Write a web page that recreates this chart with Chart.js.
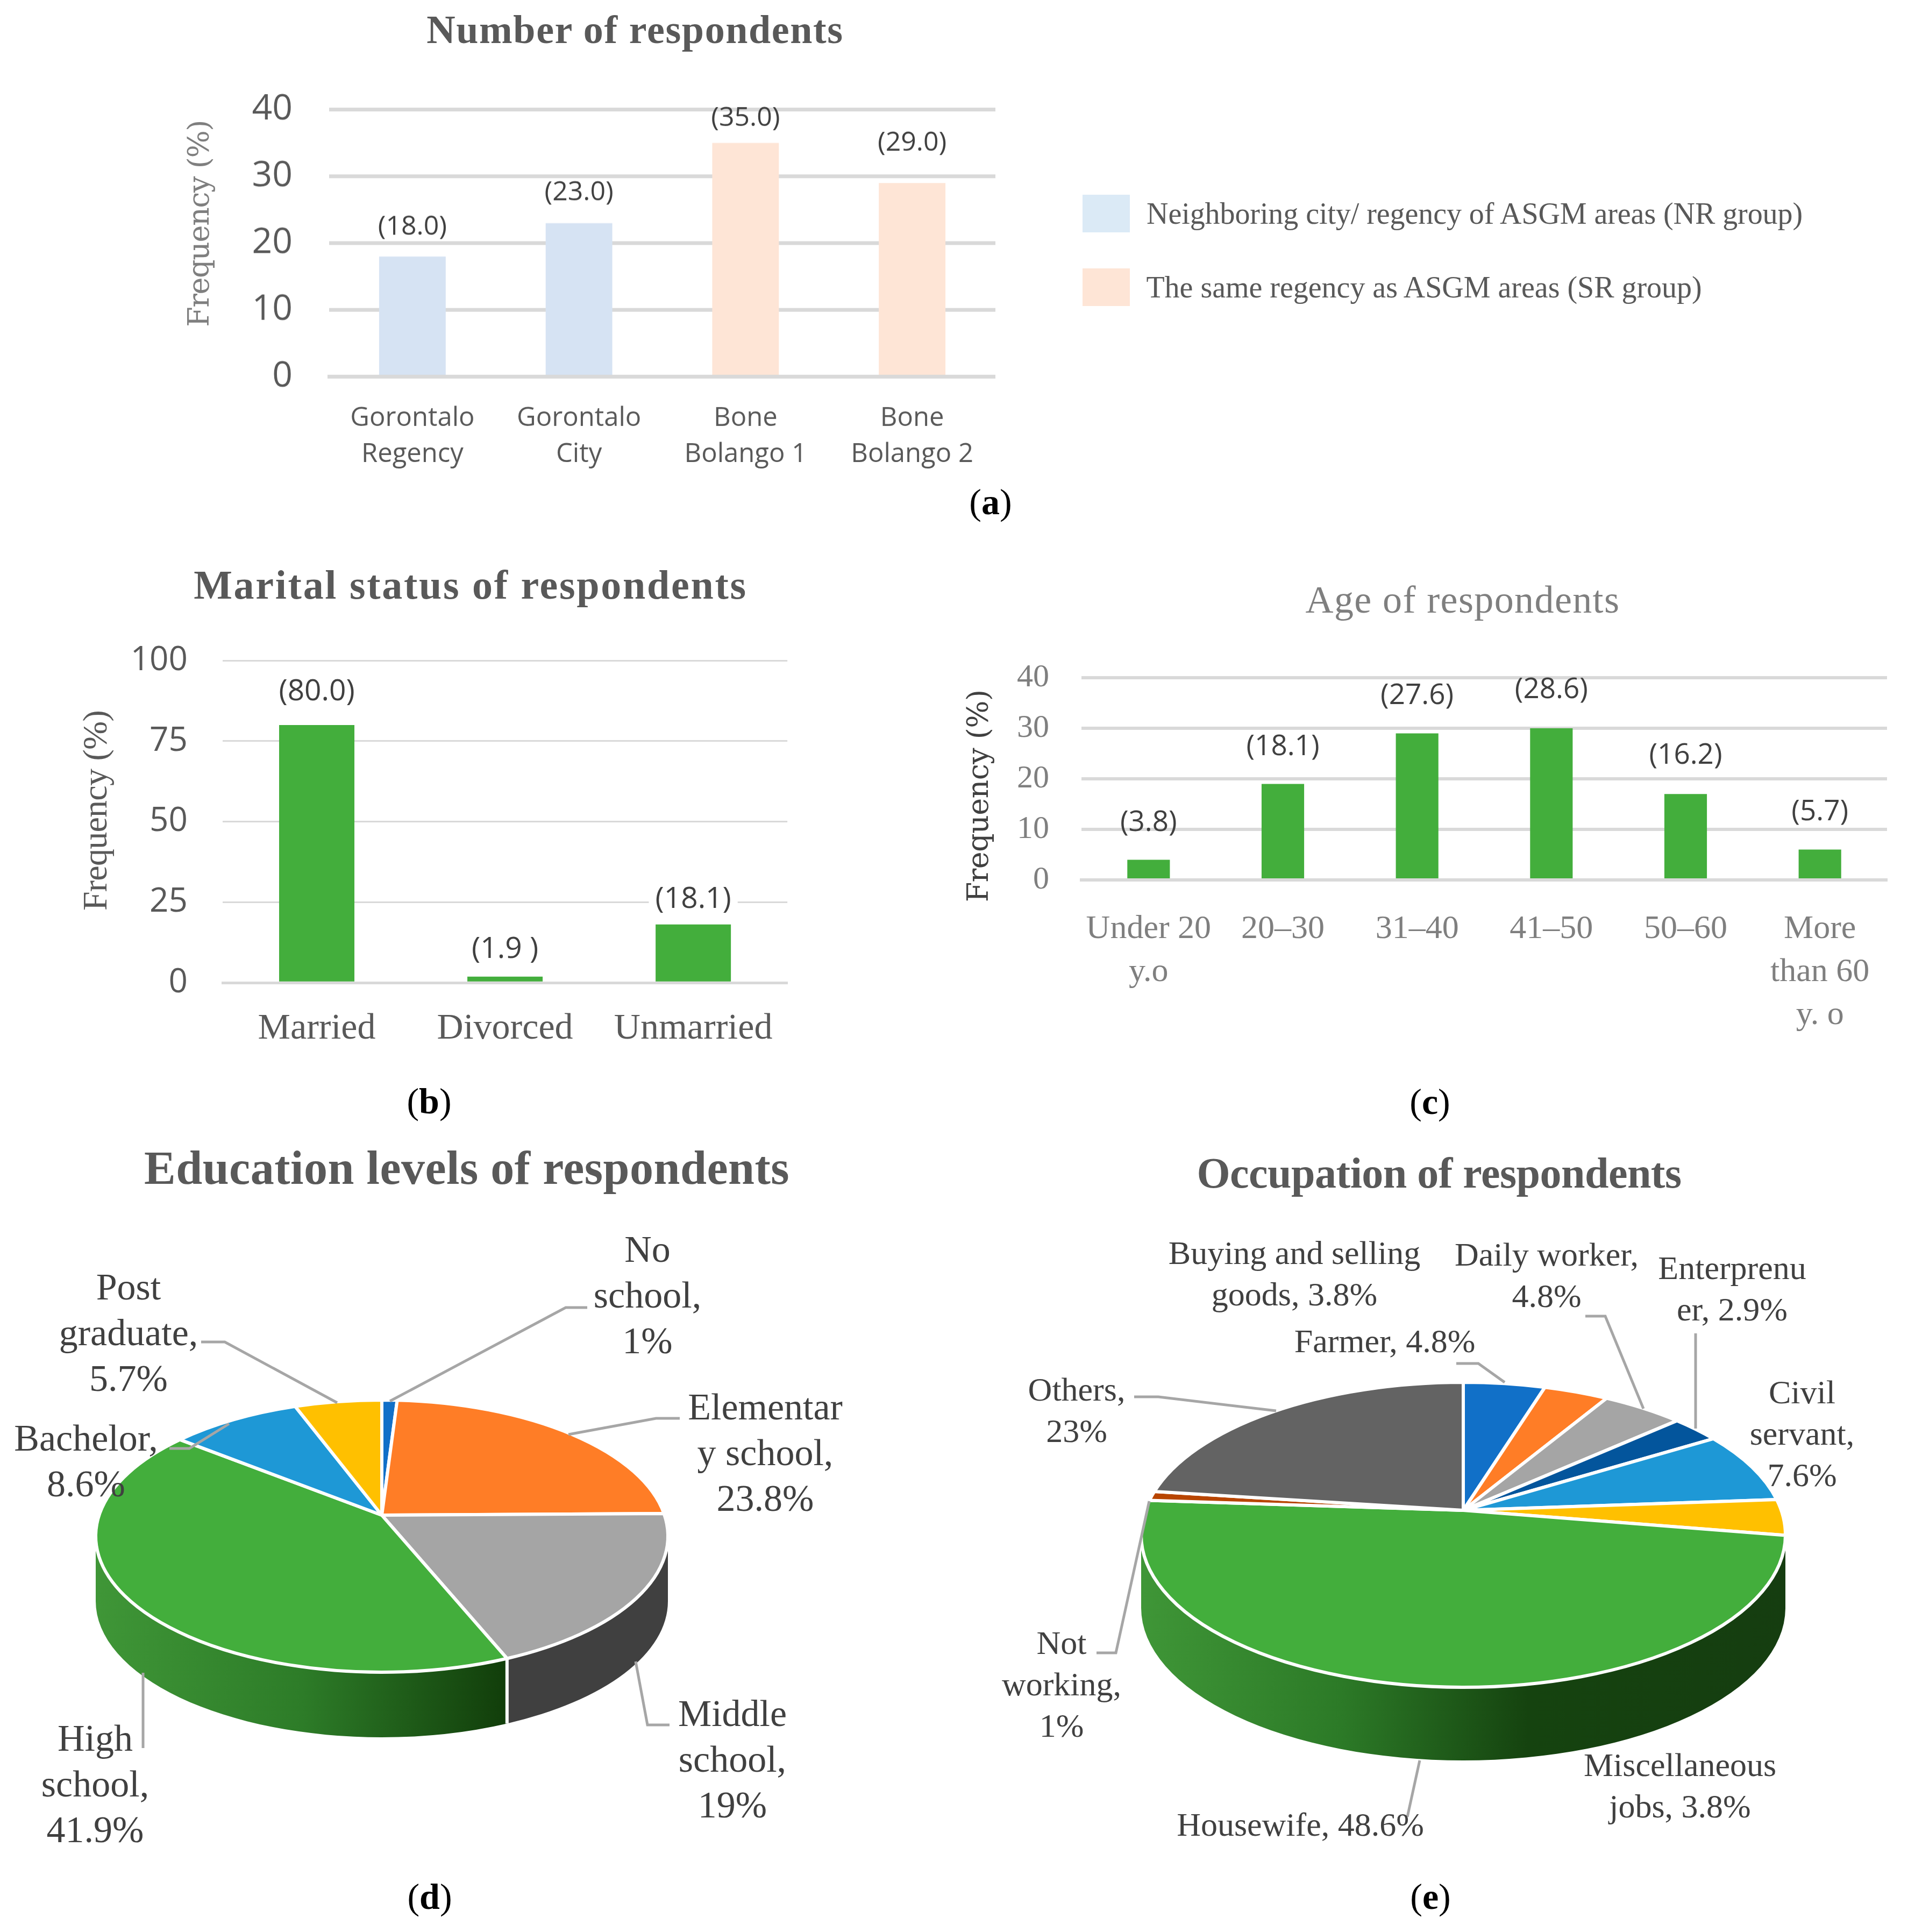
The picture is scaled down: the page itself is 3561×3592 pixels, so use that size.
<!DOCTYPE html>
<html>
<head>
<meta charset="utf-8">
<title>Respondent characteristics</title>
<script src="https://cdn.jsdelivr.net/npm/chart.js@4"></script>
<style>
  html, body { margin: 0; background: #fff; }
  #page { position: relative; width: 3561px; height: 3592px; overflow: hidden; background: #fff; }
  #page canvas { position: absolute; }
  #leaders { position: absolute; left: 0; top: 0; }
  .txt { position: absolute; white-space: nowrap; text-align: center; }
  .swatch { position: absolute; }
</style>
</head>
<body>
<div id="page"></div>
<script>
// (a) number of respondents
const regionNames = [['Gorontalo', 'Regency'], ['Gorontalo', 'City'], ['Bone', 'Bolango 1'], ['Bone', 'Bolango 2']];
const regionValues = [18, 23, 35, 29];
const regionNotes = ['(18.0)', '(23.0)', '(35.0)', '(29.0)'];
const regionColors = ['#d6e3f3', '#d6e3f3', '#fee5d6', '#fee5d6'];

// (b) marital status
const maritalNames = ['Married', 'Divorced', 'Unmarried'];
const maritalValues = [80, 1.9, 18.1];
const maritalNotes = ['(80.0)', '(1.9 )', '(18.1)'];

// (c) age: the drawn bars are a bit taller than their printed labels
const ageNames = [['Under 20', 'y.o'], '20\u201330', '31\u201340', '41\u201350', '50\u201360', ['More', 'than 60', 'y. o']];
const ageValues = [4, 19, 29, 30, 17, 6];
const ageNotes = ['(3.8)', '(18.1)', '(27.6)', '(28.6)', '(16.2)', '(5.7)'];

// (d) education
const eduNames = ['No school', 'Elementary school', 'Middle school', 'High school', 'Bachelor', 'Post graduate'];
const eduValues = [1, 23.8, 19, 41.9, 8.6, 5.7];
const eduColors = ['#1170c8', '#ff7d26', '#a5a5a5', '#43ae3c', '#1e98d6', '#ffc000'];

// (e) occupation
const jobNames = ['Farmer', 'Buying and selling goods', 'Daily worker', 'Enterpreneur', 'Civil servant', 'Miscellaneous jobs', 'Housewife', 'Not working', 'Others'];
const jobValues = [4.8, 3.8, 4.8, 2.9, 7.6, 3.8, 48.6, 1, 23];
const jobColors = ['#1170c8', '#ff7d26', '#a5a5a5', '#03559c', '#1e98d6', '#ffc000', '#43ae3c', '#b84500', '#636363'];

const SERIF = "'Liberation Serif', serif";
const WIDE_SERIF = "'DejaVu Serif', serif";
const SANS = "'Open Sans', sans-serif";
const GREEN = '#43ae3c';
const GRID = '#d9d9d9';
const AXIS_W = 200;
const page = document.getElementById('page');

function addText(lines, x, y, o) {
    if (!Array.isArray(lines)) lines = [lines];
    const div = document.createElement('div');
    div.className = 'txt';
    const lh = o.lineHeight || o.size * 1.2;
    div.style.cssText = `left:${x}px;top:${y}px;font:${o.weight || 'normal'} ${o.size}px/${lh}px ${o.font || SERIF};color:${o.color || '#595959'};` +
        `transform:translate(-50%,-50%)${o.rotate ? ' rotate(' + o.rotate + 'deg)' : ''};`;
    if (o.html) div.innerHTML = lines[0];
    else div.innerHTML = lines.join('<br>');
    page.appendChild(div);
    if (o.width) {
        // squeeze or stretch to the width measured on the reference
        const n = lines[0].length;
        div.style.letterSpacing = ((o.width - div.offsetWidth) / n) + 'px';
    }
    return div;
}

function addCanvas(left, top, width, height) {
    const c = document.createElement('canvas');
    c.width = width;
    c.height = height;
    c.style.left = left + 'px';
    c.style.top = top + 'px';
    page.appendChild(c);
    return c;
}

const barNotes = {
    id: 'barNotes',
    afterDatasetsDraw(chart, args, o) {
        const ctx = chart.ctx;
        ctx.save();
        ctx.font = o.font;
        ctx.textAlign = 'center';
        ctx.textBaseline = 'middle';
        chart.getDatasetMeta(0).data.forEach((bar, i) => {
            const y = bar.y - o.offsets[i];
            if (o.mask) {
                const w = ctx.measureText(o.notes[i]).width + 24;
                ctx.fillStyle = '#fff';
                ctx.fillRect(bar.x - w / 2, y - 20, w, 40);
            }
            ctx.fillStyle = o.color;
            ctx.fillText(o.notes[i], bar.x, y);
        });
        ctx.restore();
    }
};

function barChart(c) {
    let left = c.left - AXIS_W, top = c.top - 60;
    let width = c.right - left, height = c.bottom - top + c.below;
    const canvas = addCanvas(left, top, width, height);
    const chart = new Chart(canvas, {
        type: 'bar',
        data: {
            labels: c.names,
            datasets: [{ data: c.values, backgroundColor: c.colors, barPercentage: c.barFrac, categoryPercentage: 1 }]
        },
        plugins: [barNotes],
        options: {
            responsive: false,
            maintainAspectRatio: false,
            animation: false,
            devicePixelRatio: 1,
            scales: {
                x: {
                    afterFit: s => { s.height = c.below; },
                    grid: { display: false },
                    border: { display: true, color: GRID, width: c.axisWidth, z: 1 },
                    ticks: {
                        autoSkip: false, maxRotation: 0, padding: c.xPad, color: c.xColor,
                        font: { family: c.xFont, size: c.xSize, lineHeight: c.xLine / c.xSize }
                    }
                },
                y: {
                    afterFit: s => { s.width = AXIS_W; },
                    min: 0, max: c.max,
                    grid: { color: GRID, lineWidth: c.gridWidth, drawTicks: false },
                    border: { display: false },
                    ticks: { stepSize: c.step, padding: c.yPad, color: c.yColor, font: { family: c.yFont, size: c.ySize } }
                }
            },
            plugins: {
                legend: { display: false },
                tooltip: { enabled: false },
                barNotes: { notes: c.notes, offsets: c.offsets, font: c.noteFont, color: '#404040', mask: c.mask }
            }
        }
    });
    // the layout keeps some margin of its own, so slide the canvas until the plot sits where it should
    for (let pass = 0; pass < 3; pass++) {
        const area = chart.chartArea;
        const insetL = area.left, insetT = area.top;
        const insetR = width - area.right, insetB = height - area.bottom;
        left = c.left - insetL;
        top = c.top - insetT;
        width = insetL + (c.right - c.left) + insetR;
        height = insetT + (c.bottom - c.top) + insetB;
        canvas.style.left = left + 'px';
        canvas.style.top = top + 'px';
        chart.resize(width, height);
    }
    return chart;
}

// perspective pie: a round disc seen tilted, with the near edge larger than the far edge.
// The apex stays at the library's arc centre and the rim comes out as a true ellipse.
function tiltedPie(shape) {
    return {
        id: 'tiltedPie',
        beforeDatasetsDraw(chart) {
            const ctx = chart.ctx;
            const arcs = chart.getDatasetMeta(0).data;
            const cx = arcs[0].x, cy = arcs[0].y;
            const { rx, far, near, depth } = shape;
            const k = (near - far) / (near + far);
            const flat = far * (1 + k);
            const wide = rx * Math.sqrt(1 - k * k);
            const ey = cy + (near - far) / 2;
            const ery = (near + far) / 2;
            const rimAngle = a => {
                const w = 1 - k * Math.sin(a);
                const x = wide * Math.cos(a) / w;
                const y = flat * Math.sin(a) / w;
                return Math.atan2((cy + y - ey) / ery, x / rx);
            };
            const rimPoint = t => [cx + rx * Math.cos(t), ey + ery * Math.sin(t)];
            const spans = arcs.map(arc => {
                const t0 = rimAngle(arc.startAngle);
                let t1 = rimAngle(arc.endAngle);
                if (t1 <= t0) t1 += 2 * Math.PI;
                return [t0, t1];
            });

            // side wall, only the lower half of the rim can show
            arcs.forEach((arc, i) => {
                const a = Math.max(spans[i][0], 0), b = Math.min(spans[i][1], Math.PI);
                if (b <= a) return;
                const side = shape.sides[i];
                let fill = side;
                if (Array.isArray(side)) {
                    fill = ctx.createLinearGradient(cx - rx, 0, cx + rx, 0);
                    side.forEach(s => fill.addColorStop(s[0], s[1]));
                }
                ctx.beginPath();
                ctx.ellipse(cx, ey, rx, ery, 0, a, b);
                ctx.ellipse(cx, ey + depth, rx, ery, 0, b, a, true);
                ctx.closePath();
                ctx.fillStyle = fill;
                ctx.fill();
            });
            if (shape.seam) {
                spans.forEach(span => {
                    if (span[0] <= 0 || span[0] >= Math.PI) return;
                    const [x, y] = rimPoint(span[0]);
                    ctx.beginPath();
                    ctx.moveTo(x, y);
                    ctx.lineTo(x, y + depth);
                    ctx.strokeStyle = '#fff';
                    ctx.lineWidth = 6;
                    ctx.stroke();
                });
            }

            arcs.forEach((arc, i) => {
                ctx.beginPath();
                ctx.moveTo(cx, cy);
                ctx.ellipse(cx, ey, rx, ery, 0, spans[i][0], spans[i][1]);
                ctx.closePath();
                ctx.fillStyle = arc.options.backgroundColor;
                ctx.fill();
                ctx.strokeStyle = '#fff';
                ctx.lineWidth = 6;
                ctx.lineJoin = 'round';
                ctx.stroke();
            });
            return false;
        }
    };
}

function pieChart(names, values, colors, apexX, apexY, shape) {
    const half = shape.rx + 30;
    const canvas = addCanvas(apexX - half, apexY - half, half * 2, half * 2);
    return new Chart(canvas, {
        type: 'pie',
        data: { labels: names, datasets: [{ data: values, backgroundColor: colors, borderWidth: 0 }] },
        plugins: [tiltedPie(shape)],
        options: {
            responsive: false,
            animation: false,
            devicePixelRatio: 1,
            plugins: { legend: { display: false }, tooltip: { enabled: false } }
        }
    });
}

barChart({
    left: 612, right: 1851, top: 204, bottom: 700, below: 200,
    names: regionNames, values: regionValues, notes: regionNotes, colors: regionColors,
    offsets: [55, 57, 46, 74], barFrac: 0.4, max: 40, step: 10,
    gridWidth: 7, axisWidth: 7, xPad: 36, xColor: '#595959', xFont: SANS, xSize: 49, xLine: 67,
    yPad: 68, yColor: '#595959', yFont: SANS, ySize: 66, noteFont: `50px ${SANS}`
});
barChart({
    left: 414, right: 1464, top: 1228, bottom: 1827, below: 140,
    names: maritalNames, values: maritalValues, notes: maritalNotes, colors: GREEN,
    offsets: [62, 50, 46], barFrac: 0.4, max: 100, step: 25,
    gridWidth: c => c.tick.value === 0 ? 5 : 3, axisWidth: 5, xPad: 42, xColor: '#595959', xFont: SERIF, xSize: 68, xLine: 72,
    yPad: 65, yColor: '#595959', yFont: SANS, ySize: 62, noteFont: `55px ${SANS}`, mask: true
});
barChart({
    left: 2011, right: 3509, top: 1260, bottom: 1636, below: 300,
    names: ageNames, values: ageValues, notes: ageNotes, colors: GREEN,
    offsets: [68, 68, 69, 71, 71, 70], barFrac: 0.317, max: 40, step: 10,
    gridWidth: 6, axisWidth: 6, xPad: 44, xColor: '#7f7f7f', xFont: SERIF, xSize: 62, xLine: 80,
    yPad: 60, yColor: '#7f7f7f', yFont: SERIF, ySize: 60, noteFont: `53px ${SANS}`
});

pieChart(eduNames, eduValues, eduColors, 710, 2817, {
    rx: 532, far: 214, near: 292, depth: 121, seam: true,
    sides: ['#404040', '#404040', '#404040', [[0, '#3f9637'], [0.36, '#2d7c28'], [0.72, '#113d0a'], [1, '#113d0a']], '#404040', '#404040']
});
const jobSide = [[0, '#3f9637'], [0.31, '#2c7a27'], [0.6, '#15430f'], [1, '#153d10']];
pieChart(jobNames, jobValues, jobColors, 2721, 2808, {
    rx: 599, far: 238, near: 329, depth: 136, seam: false,
    sides: ['#153d10', '#153d10', '#153d10', '#153d10', '#153d10', '#153d10', jobSide, '#153d10', '#153d10']
});

// leader lines from the pie labels
const leaderLines = [
    '1092,2431 1052,2431 725,2605', '1264,2637 1220,2637 1057,2667', '1245,3207 1204,3207 1182,3089',
    '266,3250 266,3110', '315,2693 352,2693 426,2647', '374,2495 418,2495 627,2608',
    '2708,2535 2749,2535 2798,2570', '2948,2447 2985,2447 3056,2619', '3153,2479 3153,2656',
    '2109,2597 2154,2597 2373,2623', '2039,3073 2075,3073 2137,2791', '2617,3378 2640,3273'
];
const svgNS = 'http://www.w3.org/2000/svg';
const svg = document.createElementNS(svgNS, 'svg');
svg.setAttribute('id', 'leaders');
svg.setAttribute('width', 3561);
svg.setAttribute('height', 3592);
leaderLines.forEach(pts => {
    const p = document.createElementNS(svgNS, 'polyline');
    p.setAttribute('points', pts);
    p.setAttribute('fill', 'none');
    p.setAttribute('stroke', '#a6a6a6');
    p.setAttribute('stroke-width', 5);
    svg.appendChild(p);
});
page.appendChild(svg);

// titles
addText('Number of respondents', 1181, 55, { size: 74, weight: 'bold', width: 775 });
addText('Marital status of respondents', 875, 1088, { size: 76, weight: 'bold', width: 1030 });
addText('Age of respondents', 2720, 1115, { size: 72, color: '#7f7f7f', width: 585 });
addText('Education levels of respondents', 868, 2172, { size: 88, weight: 'bold', width: 1200 });
addText('Occupation of respondents', 2676, 2181, { size: 80, weight: 'bold', width: 901 });

// y axis titles
addText('Frequency (%)', 370, 416, { size: 54, font: WIDE_SERIF, color: '#7f7f7f', rotate: -90, width: 384 });
addText('Frequency (%)', 177, 1507, { size: 64, color: '#595959', rotate: -90, width: 372 });
addText('Frequency (%)', 1819, 1480, { size: 54, font: WIDE_SERIF, color: '#404040', rotate: -90, width: 395 });

// legend of (a)
[['#dbeaf6', 362], ['#fee5d6', 499]].forEach(([color, top]) => {
    const s = document.createElement('div');
    s.className = 'swatch';
    s.style.cssText = `left:2013px;top:${top}px;width:88px;height:70px;background:${color}`;
    page.appendChild(s);
});
addText('Neighboring city/ regency of ASGM areas (NR group)', 2742, 398, { size: 56, width: 1220 });
addText('The same regency as ASGM areas (SR group)', 2648, 535, { size: 56, width: 1033 });

// pie labels
const eduText = { size: 70, lineHeight: 85, color: '#404040' };
addText(['No', 'school,', '1%'], 1204, 2407, eduText);
addText(['Elementar', 'y school,', '23.8%'], 1423, 2700, eduText);
addText(['Middle', 'school,', '19%'], 1362, 3270, eduText);
addText(['High', 'school,', '41.9%'], 177, 3316, eduText);
addText(['Bachelor,', '8.6%'], 160, 2716, eduText);
addText(['Post', 'graduate,', '5.7%'], 239, 2477, eduText);

const jobText = { size: 62, lineHeight: 77, color: '#404040' };
addText(['Buying and selling', 'goods, 3.8%'], 2407, 2368, jobText);
addText(['Daily worker,', '4.8%'], 2876, 2371, jobText);
addText(['Enterprenu', 'er, 2.9%'], 3221, 2396, jobText);
addText('Farmer, 4.8%', 2575, 2493, jobText);
addText(['Civil', 'servant,', '7.6%'], 3351, 2665, jobText);
addText(['Others,', '23%'], 2002, 2622, jobText);
addText(['Not', 'working,', '1%'], 1974, 3131, jobText);
addText('Housewife, 48.6%', 2418, 3392, jobText);
addText(['Miscellaneous', 'jobs, 3.8%'], 3124, 3320, jobText);

// panel letters
const letterStyle = { size: 68, color: '#000', html: true };
addText('(<b>a</b>)', 1842, 934, letterStyle);
addText('(<b>b</b>)', 798, 2048, letterStyle);
addText('(<b>c</b>)', 2659, 2049, letterStyle);
addText('(<b>d</b>)', 799, 3527, letterStyle);
addText('(<b>e</b>)', 2660, 3527, letterStyle);
</script>
</body>
</html>
